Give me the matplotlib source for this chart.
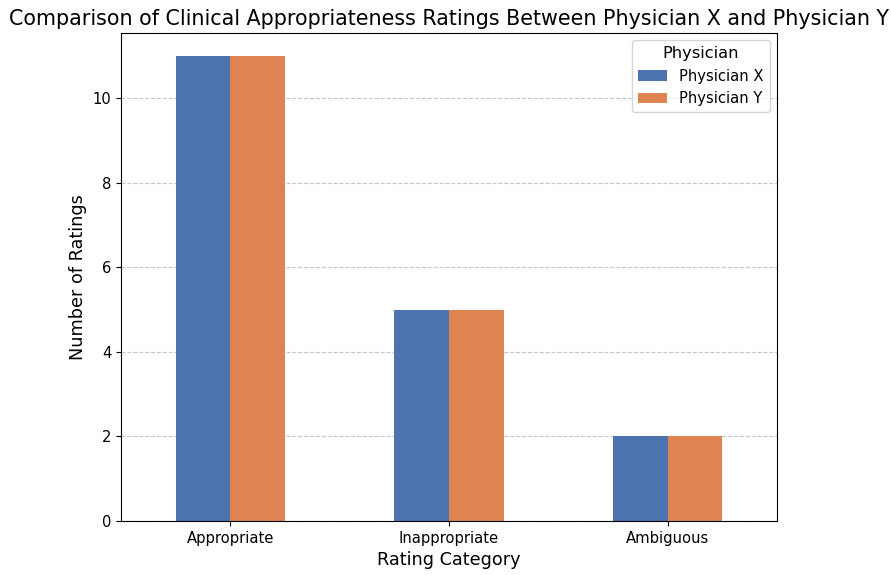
import matplotlib
matplotlib.use("Agg")
import matplotlib.pyplot as plt
import numpy as np

categories = ["Appropriate", "Inappropriate", "Ambiguous"]
physician_x = [11, 5, 2]
physician_y = [11, 5, 2]
series_names = ["Physician X", "Physician Y"]
colors = ["#4C72B0", "#DD8452"]

s = 1.06
plt.rcParams["font.size"] = 10 * s

fig = plt.figure(figsize=(8.91, 5.75), dpi=100)
ax = fig.add_axes([121/891, 1-521/575, (777-121)/891, (521-33)/575])

x = np.arange(len(categories))
w = 0.25
ax.bar(x - w/2, physician_x, w, color=colors[0], label=series_names[0], zorder=2)
ax.bar(x + w/2, physician_y, w, color=colors[1], label=series_names[1], zorder=2)
ax.set_xlim(-0.5, 2.5)
ax.set_ylim(0, 11.55)
ax.set_xticks(x)
ax.set_xticklabels(categories, rotation=0)
ax.set_yticks([0, 2, 4, 6, 8, 10])
ax.tick_params(labelsize=10 * s)
ax.yaxis.grid(True, linestyle="--", alpha=0.7, zorder=0)
ax.set_axisbelow(True)
ax.set_title("Comparison of Clinical Appropriateness Ratings Between Physician X and Physician Y", fontsize=14 * s)
ax.set_xlabel("Rating Category", fontsize=12 * s)
ax.set_ylabel("Number of Ratings", fontsize=12 * s)
leg = ax.legend(title="Physician", loc="upper right", fontsize=10 * s, title_fontsize=11 * s)

fig.savefig("out.png", dpi=100)
